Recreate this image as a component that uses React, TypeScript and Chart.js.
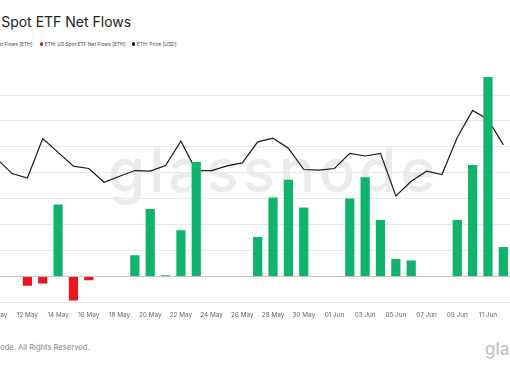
import React, { useEffect, useRef } from "react";
import { Chart, registerables } from "chart.js";

Chart.register(...registerables);

const dates: string[] = [
  "10 May", "11 May", "12 May", "13 May", "14 May", "15 May", "16 May", "17 May", "18 May", "19 May",
  "20 May", "21 May", "22 May", "23 May", "24 May", "25 May", "26 May", "27 May", "28 May", "29 May",
  "30 May", "31 May", "01 Jun", "02 Jun", "03 Jun", "04 Jun", "05 Jun", "06 Jun", "07 Jun", "08 Jun",
  "09 Jun", "10 Jun", "11 Jun", "12 Jun",
];

// ETH: US Spot ETF Net Flows [ETH]
const netFlows: (number | null)[] = [
  null, null, -7300, -5500, 55500, -18500, -2900, null, null, 16400,
  52100, 800, 35700, 88300, null, null, null, 30500, 61000, 74700,
  53100, null, null, 60200, 76600, 43500, 13500, 12300, null, null,
  43500, 86000, 154000, 22700,
];

// ETH: Price [USD]
const price: number[] = [
  2637, 2563, 2541, 2736, 2668, 2600, 2588, 2520, 2550, 2578,
  2575, 2603, 2723, 2578, 2578, 2601, 2616, 2720, 2738, 2688,
  2583, 2580, 2588, 2663, 2650, 2663, 2453, 2525, 2575, 2558,
  2741, 2875, 2830, 2705,
];

const gridValues: number[] = [-20000, 0, 20000, 40000, 60000, 80000, 100000, 120000, 140000];

const legendItems: { label: string; color: string; x: number }[] = [
  { label: "ETH: US Spot ETF Net Flows [ETH]", color: "#10b36b", x: -53 },
  { label: "ETH: US Spot ETF Net Flows [ETH]", color: "#e8161d", x: 40 },
  { label: "ETH: Price [USD]", color: "#111111", x: 132 },
];

const GREEN = "#10b36b";
const RED = "#e8161d";

export default function App() {
  const canvasRef = useRef<HTMLCanvasElement | null>(null);

  useEffect(() => {
    document.body.style.margin = "0";
    const ctx = canvasRef.current!;
    const chart = new Chart(ctx, {
      data: {
        labels: dates,
        datasets: [
          {
            type: "line",
            label: "ETH: Price [USD]",
            data: price,
            yAxisID: "y2",
            borderColor: "#1a1a1a",
            borderWidth: 1.2,
            pointRadius: 0,
            tension: 0,
            order: 2,
          },
          {
            type: "bar",
            label: "ETH: US Spot ETF Net Flows [ETH]",
            data: netFlows,
            yAxisID: "y",
            backgroundColor: netFlows.map((v) => (v !== null && v < 0 ? RED : GREEN)),
            barPercentage: 0.6,
            categoryPercentage: 1.0,
            order: 1,
          },
        ],
      } as any,
      options: {
        animation: false,
        responsive: true,
        maintainAspectRatio: false,
        layout: { padding: { top: 74.3, bottom: 0, left: 0, right: 0 } },
        plugins: { legend: { display: false }, title: { display: false }, tooltip: { enabled: false } },
        scales: {
          x: {
            grid: { display: false, drawTicks: false },
            border: { display: false },
            afterFit: (s: any) => {
              s.paddingLeft = 0;
              s.paddingRight = 0;
            },
            ticks: {
              autoSkip: false,
              maxRotation: 0,
              padding: 8.5,
              color: "#666666",
              font: { family: "Inter", size: 6.4 },
              callback: (_v: any, i: number) => (i % 2 === 0 ? dates[i] : ""),
            },
          },
          y: {
            position: "left",
            min: -20000,
            max: 156000,
            afterFit: (s: any) => {
              s.width = 0;
            },
            afterBuildTicks: (s: any) => {
              s.ticks = gridValues.map((v) => ({ value: v }));
            },
            grid: {
              drawTicks: false,
              color: (c: any) => (c.tick && c.tick.value === 0 ? "#c4c4c4" : "#e9e9e9"),
              lineWidth: 1,
            },
            border: { display: false },
            ticks: { display: false },
          },
          y2: {
            display: false,
            min: 1927,
            max: 3053.5,
          },
        },
      } as any,
    });
    return () => chart.destroy();
  }, []);

  return (
    <div style={{ position: "fixed", left: 0, top: 0, width: 510, height: 369, overflow: "hidden", background: "#fff", fontFamily: "Inter, sans-serif" }}>
      <div style={{ position: "absolute", left: -58, top: 15, fontSize: 14, lineHeight: "14px", color: "#222", whiteSpace: "nowrap" }}>
        ETH: US Spot ETF Net Flows
      </div>
      {legendItems.map((it, i) => (
        <div key={i} style={{ position: "absolute", left: it.x, top: 41, display: "flex", alignItems: "center", whiteSpace: "nowrap", fontSize: 4.9, lineHeight: "6px", color: "#444" }}>
          <span style={{ display: "inline-block", width: 3.2, height: 3.2, borderRadius: "50%", background: it.color, marginRight: 1.6 }} />
          <span>{it.label}</span>
        </div>
      ))}
      <div style={{ position: "absolute", left: 108, top: 140, fontSize: 60, lineHeight: "60px", fontWeight: 500, color: "#ebebeb", whiteSpace: "nowrap", letterSpacing: 4 }}>
        glassnode
      </div>
      <div style={{ position: "absolute", left: -11, top: 0, width: 522, height: 327 }}>
        <canvas ref={canvasRef} />
      </div>
      <div style={{ position: "absolute", left: -54, top: 343, fontSize: 7.6, lineHeight: "9px", color: "#888", whiteSpace: "nowrap" }}>
        © 2025 Glassnode. All Rights Reserved.
      </div>
      <div style={{ position: "absolute", left: 485, top: 340, fontSize: 17, lineHeight: "18px", fontWeight: 500, color: "#c4c4c4", whiteSpace: "nowrap" }}>
        glassnode
      </div>
    </div>
  );
}
